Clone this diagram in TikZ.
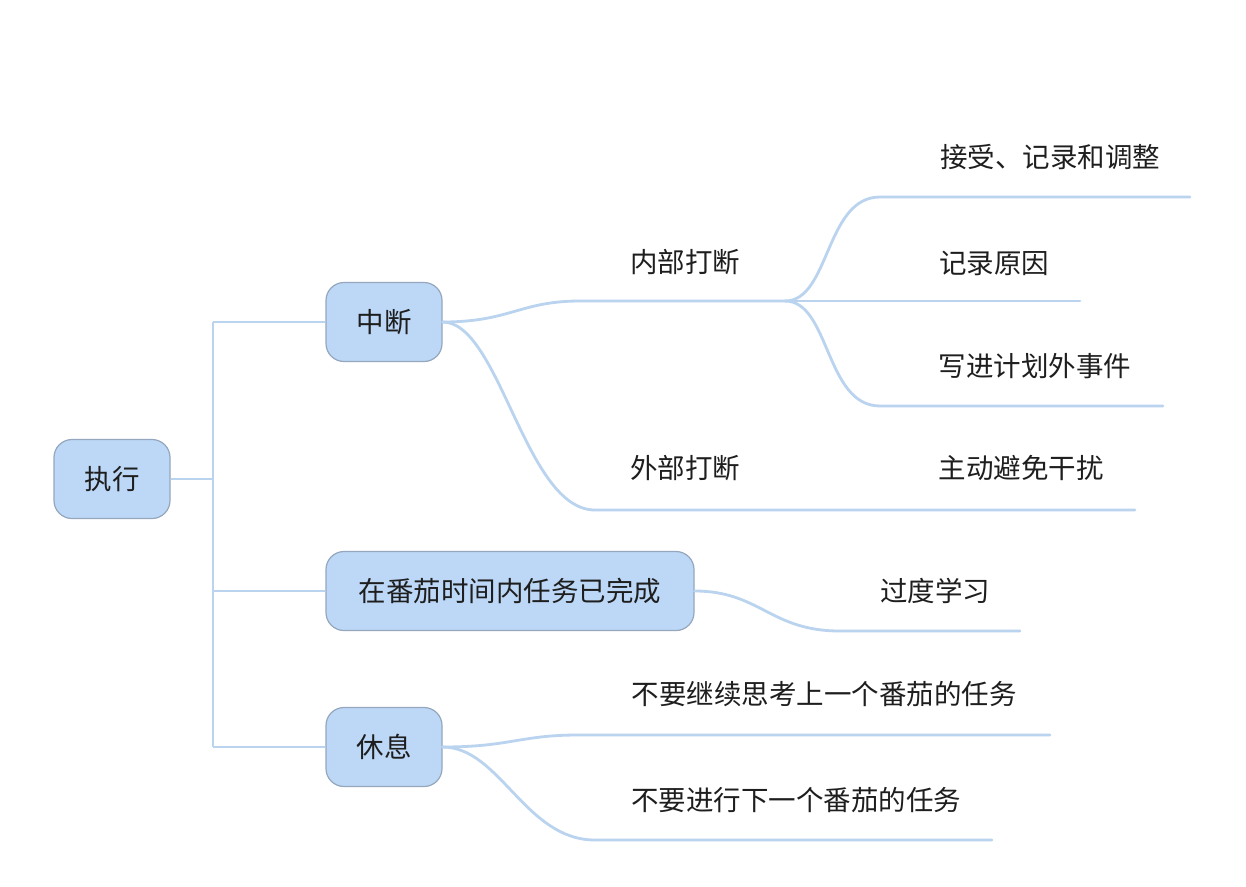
\documentclass[tikz,border=0pt]{standalone}
\usepackage{fontspec}
\setmainfont{Noto Sans CJK SC}
\begin{document}
\begin{tikzpicture}[x=1pt,y=-1pt,
  topic/.style={draw=boxline,line width=1.2pt,fill=boxfill,rounded corners=18pt,minimum height=79pt,minimum width=116pt,inner sep=0pt,font=\fontsize{27.5}{32}\selectfont,text=txt},
  lbl/.style={inner sep=0pt,font=\fontsize{27.5}{32}\selectfont,text=txt},
  br/.style={draw=branch,line width=2.8pt,line cap=round}]
\definecolor{boxfill}{HTML}{BDD8F7}
\definecolor{boxline}{HTML}{94A7BD}
\definecolor{branch}{HTML}{BAD3EF}
\definecolor{txt}{HTML}{1E1E1E}
\useasboundingbox (0,0) rectangle (1246,886);
\fill[white] (0,0) rectangle (1246,886);
% trunk
\coordinate (j) at (213,479);
\coordinate (jtop) at (213,322);
\coordinate (jmid) at (213,591);
\coordinate (jbot) at (213,747);
\node[topic] (zx) at (112,479) {执行};
\node[topic] (zd) at (384,322) {中断};
\node[topic,minimum width=368pt] (wc) at (510,591) {在番茄时间内任务已完成};
\node[topic] (xx) at (384,747) {休息};
\draw[br,line cap=butt] (zx.east) -- (j);
\draw[br,line cap=butt] (jtop) -- (jbot);
\draw[br,line cap=butt] (jtop) -- (zd.west);
\draw[br,line cap=butt] (jmid) -- (wc.west);
\draw[br,line cap=butt] (jbot) -- (xx.west);
% labels
\node[lbl] (nb) at (685,262) {内部打断};
\node[lbl] (wb) at (685,468) {外部打断};
\node[lbl] (a1) at (1050,157) {接受、记录和调整};
\node[lbl] (a2) at (994,263) {记录原因};
\node[lbl] (a3) at (1035,366) {写进计划外事件};
\node[lbl] (b1) at (1021,468) {主动避免干扰};
\node[lbl] (c1) at (935,591) {过度学习};
\node[lbl] (d1) at (824,694) {不要继续思考上一个番茄的任务};
\node[lbl] (d2) at (796,800) {不要进行下一个番茄的任务};
% branch coordinates
\coordinate (nbs) at (580,301);
\coordinate (nbe) at (785,301);
\coordinate (a1s) at (880,197);
\coordinate (a1e) at (1190,197);
\coordinate (a2e) at (1080,301);
\coordinate (a3s) at (880,406);
\coordinate (a3e) at (1163,406);
\coordinate (wbs) at (595,510);
\coordinate (wbe) at (1135,510);
\coordinate (c1s) at (840,631);
\coordinate (c1e) at (1020,631);
\coordinate (d1s) at (578,735);
\coordinate (d1e) at (1050,735);
\coordinate (d2s) at (595,840);
\coordinate (d2e) at (992,840);
% 中断 branches
\draw[br] (zd.east) .. controls (510,322) and (520,301) .. (nbs) -- (nbe);
\draw[br] (zd.east) .. controls (500,322) and (525,510) .. (wbs) -- (wbe);
\draw[br] (nbe) .. controls (830,301) and (825,197) .. (a1s) -- (a1e);
\draw[br] (nbe) -- (a2e);
\draw[br] (nbe) .. controls (830,301) and (825,406) .. (a3s) -- (a3e);
% 完成 branch
\draw[br] (wc.east) .. controls (760,591) and (770,631) .. (c1s) -- (c1e);
% 休息 branches
\draw[br] (xx.east) .. controls (510,747) and (520,735) .. (d1s) -- (d1e);
\draw[br] (xx.east) .. controls (500,747) and (525,840) .. (d2s) -- (d2e);
\end{tikzpicture}
\end{document}
